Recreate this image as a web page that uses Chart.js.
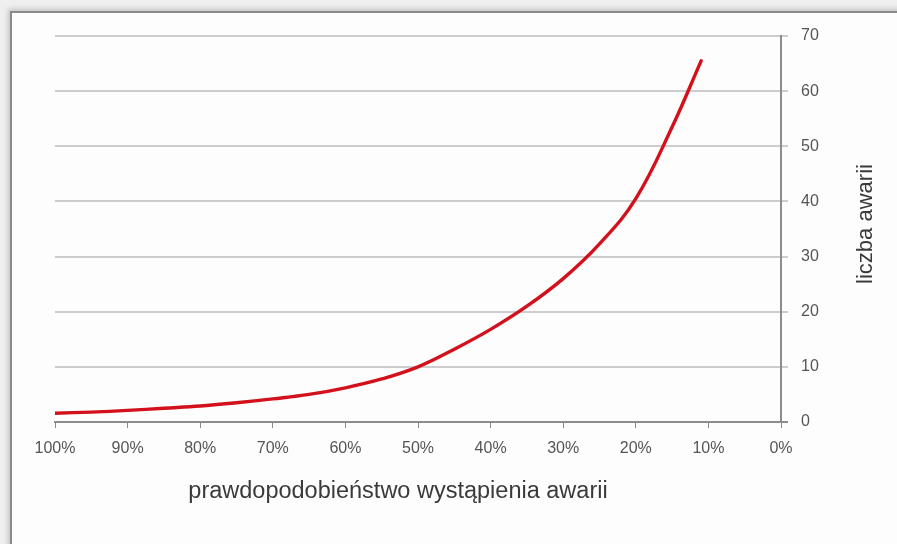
<!DOCTYPE html>
<html>
<head>
<meta charset="utf-8">
<script src="https://cdn.jsdelivr.net/npm/chart.js@4"></script>
<style>
  html, body { margin: 0; padding: 0; }
  body { width: 897px; height: 544px; background: #efefef; position: relative; overflow: hidden; }
  #frame {
    position: absolute; left: 10px; top: 11px; width: 900px; height: 560px;
    background: #fdfdfd;
    border-left: 2px solid #8a8a8a; border-top: 2px solid #8a8a8a;
    box-shadow: -2px -2px 5px rgba(0,0,0,0.18);
  }
  #wrap { position: absolute; left: 0; top: 0; width: 897px; height: 544px; }
</style>
</head>
<body>
<div id="frame"></div>
<div id="wrap"><canvas id="c" width="897" height="544"></canvas></div>
<script>
// probability of a failure (%) and the matching number of failures
const probability = [100, 95, 90, 85, 80, 75, 70, 65, 60, 55, 50, 45, 40, 35, 30, 25, 20, 15, 11];
const failures    = [1.6, 1.8, 2.1, 2.5, 2.9, 3.5, 4.2, 5.0, 6.2, 7.8, 10.0, 13.2, 16.8, 21.0, 26.0, 32.3, 40.5, 53.5, 65.5];
const xTicks = [100, 90, 80, 70, 60, 50, 40, 30, 20, 10, 0];
const yTicks = [0, 10, 20, 30, 40, 50, 60, 70];
const xTitle = 'prawdopodobieństwo wystąpienia awarii';
const yTitle = 'liczba awarii';

const FONT = '"Liberation Sans", Arial, sans-serif';

// axis titles drawn in place (the vertical one reads bottom-to-top)
const titles = {
  id: 'titles',
  afterDraw(chart) {
    const ctx = chart.ctx;
    ctx.save();
    ctx.fillStyle = '#3a3a3a';
    ctx.textAlign = 'center';
    ctx.textBaseline = 'middle';
    ctx.font = '23.5px ' + FONT;
    ctx.fillText(xTitle, 398, 492);
    ctx.font = '22px ' + FONT;
    ctx.translate(866, 224);
    ctx.rotate(-Math.PI / 2);
    ctx.fillText(yTitle, 0, 0);
    ctx.restore();
  }
};

new Chart(document.getElementById('c'), {
  type: 'line',
  data: {
    datasets: [{
      data: probability.map((p, i) => ({ x: p, y: failures[i] })),
      borderColor: '#d2111c',
      borderWidth: 3.4,
      pointRadius: 0,
      fill: false,
      tension: 0.4,
      borderCapStyle: 'round'
    }]
  },
  options: {
    responsive: false,
    animation: false,
    devicePixelRatio: 1,
    layout: { padding: { left: 55, top: 36, right: 0, bottom: 0 } },
    plugins: { legend: { display: false }, tooltip: { enabled: false } },
    scales: {
      x: {
        type: 'linear',
        reverse: true,
        min: 0, max: 100,
        afterFit(s) { s.height = 122; },
        afterBuildTicks(s) { s.ticks = xTicks.map(v => ({ value: v })); },
        ticks: {
          callback: v => v + '%',
          color: '#555',
          font: { family: FONT, size: 16 },
          padding: 11,
          maxRotation: 0,
          autoSkip: false
        },
        grid: { drawOnChartArea: false, drawTicks: true, tickLength: 6, color: '#8c8c8c', lineWidth: 1 },
        border: { color: '#8c8c8c', width: 2 }
      },
      y: {
        position: 'right',
        min: 0, max: 70,
        afterFit(s) { s.width = 116; },
        afterBuildTicks(s) { s.ticks = yTicks.map(v => ({ value: v })); },
        ticks: {
          color: '#555',
          font: { family: FONT, size: 16 },
          padding: 13
        },
        grid: {
          color: ctx => ctx.tick && ctx.tick.value === 0 ? '#8c8c8c' : '#cdcdcd',
          lineWidth: 2,
          tickLength: 7
        },
        border: { color: '#8c8c8c', width: 2 }
      }
    }
  },
  plugins: [titles]
});
</script>
</body>
</html>
